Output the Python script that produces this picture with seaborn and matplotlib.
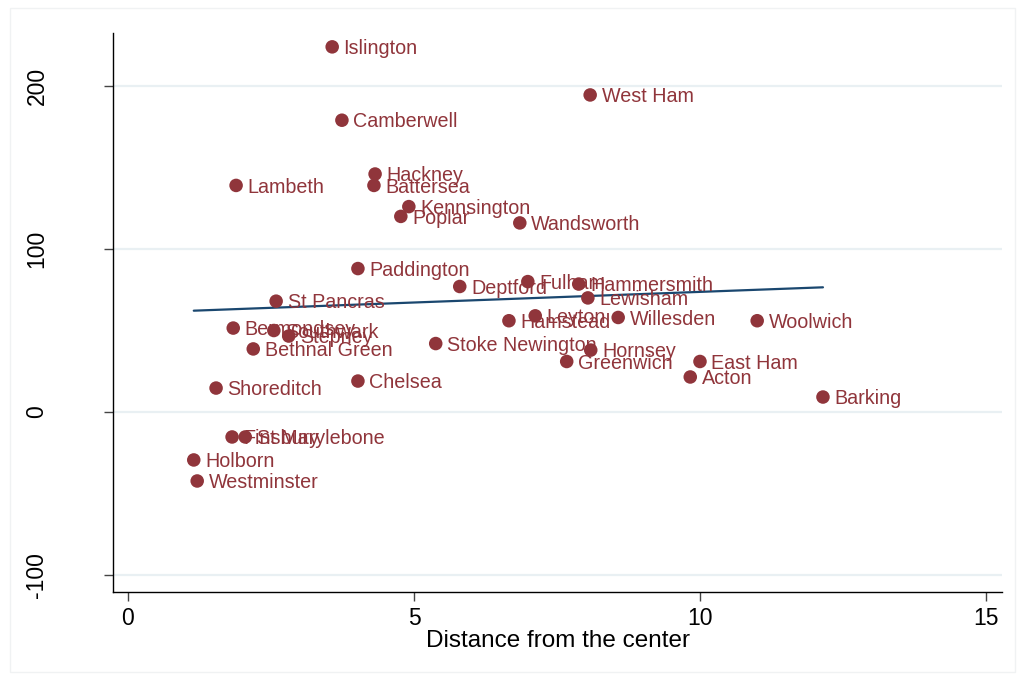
import matplotlib
matplotlib.use("Agg")
import matplotlib.pyplot as plt
import seaborn as sns
import pandas as pd
from matplotlib.patches import Rectangle

# London boroughs: distance from the centre vs. value
boroughs = [
    "Islington", "West Ham", "Camberwell", "Hackney", "Lambeth", "Battersea",
    "Kennsington", "Poplar", "Wandsworth", "Paddington", "Deptford", "Fulham",
    "Hammersmith", "St Pancras", "Lewisham", "Leyton", "Hamstead", "Willesden",
    "Woolwich", "Bermondsey", "Southwark", "Stepney", "Bethnal Green",
    "Stoke Newington", "Hornsey", "Greenwich", "East Ham", "Acton",
    "Shoreditch", "Chelsea", "Barking", "Finsbury", "St Marylebone",
    "Holborn", "Westminster",
]
distance = [
    3.57, 8.08, 3.74, 4.32, 1.89, 4.30,
    4.91, 4.77, 6.85, 4.02, 5.80, 6.99,
    7.88, 2.59, 8.04, 7.12, 6.66, 8.57,
    11.00, 1.84, 2.55, 2.81, 2.19,
    5.38, 8.09, 7.67, 10.00, 9.83,
    1.54, 4.02, 12.15, 1.82, 2.05,
    1.15, 1.21,
]
value = [
    224.0, 194.5, 179.0, 146.0, 139.0, 139.0,
    126.0, 120.0, 116.0, 88.0, 77.0, 80.0,
    78.5, 68.0, 70.0, 59.0, 56.0, 58.0,
    56.0, 51.5, 50.0, 46.6, 38.7,
    42.0, 38.0, 31.0, 31.0, 21.5,
    14.7, 19.0, 9.2, -15.3, -15.3,
    -29.4, -42.3,
]
y_ticks = [-100, 0, 100, 200]
x_ticks = [0, 5, 10, 15]

df = pd.DataFrame({"borough": boroughs, "distance": distance, "value": value})

MAROON = "#90353b"
NAVY = "#1a476f"
GRID = "#e9f0f3"

sns.set_theme(style="white")
plt.rcParams["font.family"] = ["Liberation Sans", "DejaVu Sans"]

fig = plt.figure(figsize=(10.17, 6.80), dpi=100)
fig.patch.set_facecolor("white")
ax = fig.add_axes([113 / 1017, 1 - 592 / 680, (1002 - 113) / 1017, (592 - 33) / 680])

# faint outer frame around the graph region
fig.add_artist(Rectangle((10 / 1017, 8 / 680), 1005 / 1017, 664 / 680,
                         transform=fig.transFigure, fill=False,
                         edgecolor="#f0f2f3", linewidth=1.0))

for t in y_ticks:
    ax.axhline(t, color=GRID, linewidth=1.6, zorder=0)

sns.scatterplot(data=df, x="distance", y="value", ax=ax, color=MAROON,
                s=95, edgecolor="none", linewidth=0, zorder=3, legend=False)

sns.regplot(data=df, x="distance", y="value", ax=ax, scatter=False, ci=None,
            truncate=True, line_kws={"color": NAVY, "linewidth": 1.6, "zorder": 2})

for name, xv, yv in zip(boroughs, distance, value):
    ax.annotate(name, (xv, yv), xytext=(8.2, -1.2), textcoords="offset points",
                ha="left", va="center", fontsize=14.2, color=MAROON, zorder=4)

ax.set_xlim(-0.262, 15.28)
ax.set_ylim(-110.4, 232.5)
ax.set_xticks(x_ticks)
ax.set_yticks(y_ticks)
ax.set_xticklabels([str(v) for v in x_ticks])
ax.set_yticklabels([str(v) for v in y_ticks], rotation=90, va="center")

ax.tick_params(axis="both", which="major", direction="out", length=6.5,
               width=1.0, color="#444444", labelsize=16.5, labelcolor="black",
               bottom=True, left=True, top=False, right=False)
ax.tick_params(axis="y", pad=40)
ax.tick_params(axis="x", pad=4)

ax.set_xlabel("Distance from the center", fontsize=17.5, color="black", labelpad=0)
ax.set_ylabel("")

for side in ["top", "right"]:
    ax.spines[side].set_visible(False)
for side in ["left", "bottom"]:
    ax.spines[side].set_color("black")
    ax.spines[side].set_linewidth(1.0)

ax.set_facecolor("white")
fig.savefig("out.png", dpi=100, facecolor="white")
